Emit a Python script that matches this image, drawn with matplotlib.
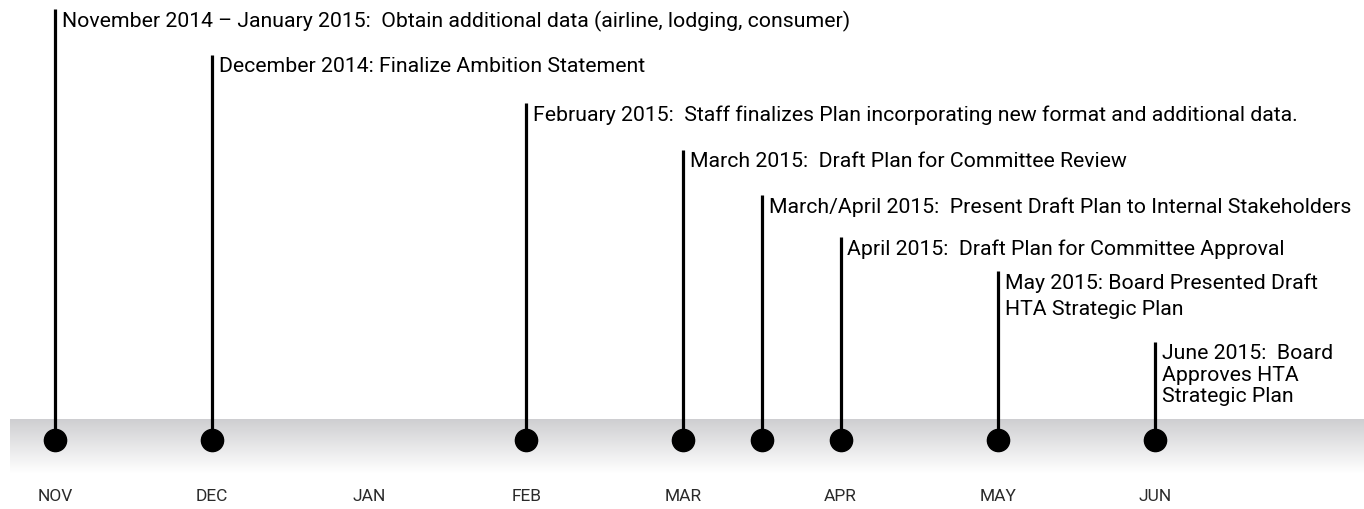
import matplotlib
matplotlib.use("Agg")
import matplotlib.pyplot as plt
import numpy as np

months = ["NOV", "DEC", "JAN", "FEB", "MAR", "APR", "MAY", "JUN"]
event_pos = [0, 1, 3, 4, 4.5, 5, 6, 7]
event_text = [
    "November 2014 \u2013 January 2015:  Obtain additional data (airline, lodging, consumer)",
    "December 2014: Finalize Ambition Statement",
    "February 2015:  Staff finalizes Plan incorporating new format and additional data.",
    "March 2015:  Draft Plan for Committee Review",
    "March/April 2015:  Present Draft Plan to Internal Stakeholders",
    "April 2015:  Draft Plan for Committee Approval",
    "May 2015: Board Presented Draft\nHTA Strategic Plan",
    "June 2015:  Board\nApproves HTA\nStrategic Plan",
]
# layout: top of each stem (pixel rows from top) and line spacing of its label
event_top = [10, 56, 104, 151, 196, 238, 272, 343]
event_ls = [1.2, 1.2, 1.2, 1.2, 1.2, 1.2, 1.5, 1.15]

fam = ["Roboto", "DejaVu Sans"]

W, H = 1364, 510
fig = plt.figure(figsize=(W / 100, H / 100), dpi=100)
ax = fig.add_axes([0, 0, 1, 1])
x0_px, step_px = 55, 157.1
ax.set_xlim(-x0_px / step_px, (W - x0_px) / step_px)
ax.set_ylim(H, 0)
ax.axis("off")

# gray band
band_top, band_bot = 420, 474
left = (10 - x0_px) / step_px
right = (W - x0_px) / step_px
cols = np.zeros((256, 1, 3))
top_c = np.array([0.81, 0.81, 0.82])
bot_c = np.array([1.0, 1.0, 1.0])
for i in range(256):
    t = i / 255
    cols[i, 0] = top_c * (1 - t) + bot_c * t
ax.imshow(cols, extent=[left, right, band_bot, band_top], aspect="auto",
          interpolation="bilinear", zorder=0)

dot_y = 441
for x, txt, top, ls in zip(event_pos, event_text, event_top, event_ls):
    ax.plot([x, x], [top, dot_y], color="black", lw=2.3, solid_capstyle="butt", zorder=2)
    ax.plot([x], [dot_y], "o", color="black", ms=16, zorder=3)
    ax.annotate(txt, xy=(x, top), xytext=(5, -1), textcoords="offset points",
                ha="left", va="top", fontsize=15.3, family=fam, color="black",
                linespacing=ls, zorder=4)

for i, m in enumerate(months):
    ax.text(i, 497, m, ha="center", va="center", fontsize=12.5, family=fam,
            color="#2a2a2a")

fig.savefig("out.png", dpi=100)
